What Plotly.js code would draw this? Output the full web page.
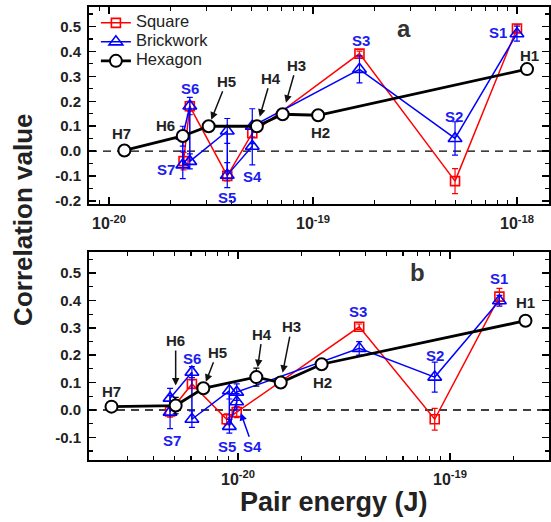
<!DOCTYPE html>
<html><head><meta charset="utf-8">
<script src="https://cdn.plot.ly/plotly-3.0.1.min.js"></script>
<style>body{margin:0;background:#fff}#plot{width:551px;height:522px}</style>
</head><body><div id="plot"></div>
<script>
// ---------- Panel a data ----------
const hexA_x = [1.19e-20, 2.30e-20, 3.08e-20, 5.31e-20, 7.1e-20, 1.06e-19, 1.12e-18];
const hexA_y = [0.003, 0.061, 0.100, 0.100, 0.148, 0.144, 0.329];
const sqA_x = [2.32e-20, 2.49e-20, 3.80e-20, 5.04e-20, 1.69e-19, 4.97e-19, 1.0e-18];
const sqA_y = [-0.040, 0.180, -0.099, 0.072, 0.391, -0.120, 0.492];
const sqA_err = [0.035, 0.020, 0.020, 0.015, 0.010, 0.050, 0.015];
const brA_x = [2.30e-20, 2.30e-20, 2.49e-20, 2.49e-20, 3.80e-20, 3.80e-20, 5.04e-20, 5.04e-20, 1.69e-19, 4.97e-19, 1.0e-18];
const brA_y = [-0.055, 0.060, 0.181, -0.041, 0.081, -0.096, 0.020, 0.100, 0.328, 0.051, 0.471];
const brA_err = [0.055, 0.040, 0.035, 0.030, 0.050, 0.050, 0.075, 0.070, 0.054, 0.067, 0.030];

// ---------- Panel b data ----------
const hexB_x = [2.53e-21, 5.08e-21, 6.86e-21, 1.22e-20, 1.59e-20, 2.48e-20, 2.27e-19];
const hexB_y = [0.012, 0.016, 0.079, 0.120, 0.100, 0.167, 0.326];
const hexB_err = [0, 0.030, 0, 0.033, 0, 0, 0];
const sqB_x = [4.78e-21, 6.06e-21, 8.84e-21, 9.86e-21, 3.73e-20, 8.47e-20, 1.71e-19];
const sqB_y = [-0.006, 0.095, -0.034, -0.008, 0.304, -0.034, 0.414];
const sqB_err = [0.020, 0.015, 0.020, 0.020, 0.010, 0.040, 0.030];
const brB_x = [4.78e-21, 4.78e-21, 6.06e-21, 6.06e-21, 9.1e-21, 9.1e-21, 9.86e-21, 9.86e-21, 3.73e-20, 8.47e-20, 1.71e-19];
const brB_y = [-0.008, 0.043, 0.138, -0.034, 0.070, -0.060, 0.030, 0.065, 0.225, 0.120, 0.399];
const brB_err = [0.060, 0.036, 0.020, 0.030, 0.030, 0.025, 0.030, 0.030, 0.025, 0.055, 0.020];

// ---------- tick labels ----------
const xTickValsA = [1e-20, 1e-19, 1e-18];
const xTickTextA = ['10<sup>-20</sup>', '10<sup>-19</sup>', '10<sup>-18</sup>'];
const xTickValsB = [1e-20, 1e-19];
const xTickTextB = ['10<sup>-20</sup>', '10<sup>-19</sup>'];
const yTickValsA = [-0.2, -0.1, 0.0, 0.1, 0.2, 0.3, 0.4, 0.5];
const yTickTextA = ['-0.2', '-0.1', '0.0', '0.1', '0.2', '0.3', '0.4', '0.5'];
const yTickValsB = [-0.1, 0.0, 0.1, 0.2, 0.3, 0.4, 0.5];
const yTickTextB = ['-0.1', '0.0', '0.1', '0.2', '0.3', '0.4', '0.5'];

const seriesNames = ['Square', 'Brickwork', 'Hexagon'];

// label definitions: [series, index, text, dx, dy, arrow, standoff]
const labelsA = [
  ['br', 10, 'S1', -19, -1], ['br', 9, 'S2', -1, -22], ['sq', 4, 'S3', 2, -13],
  ['br', 6, 'S4', 0, 30], ['br', 5, 'S5', 0, 22], ['sq', 1, 'S6', 0, -18], ['br', 0, 'S7', -17, 5],
  ['hex', 6, 'H1', 2, -14], ['hex', 5, 'H2', 2, 17], ['hex', 4, 'H3', 14, -49, true, 12],
  ['hex', 3, 'H4', 14, -48, true, 10], ['hex', 2, 'H5', 18, -45, true, 7],
  ['hex', 1, 'H6', -17, -10], ['hex', 0, 'H7', -3, -17]
];
const labelsB = [
  ['sq', 6, 'S1', 0, -18], ['br', 9, 'S2', 0, -22], ['sq', 4, 'S3', -1, -15],
  ['br', 6, 'S4', 16, 45, true, 12], ['br', 5, 'S5', -2, 20], ['br', 2, 'S6', 0, -14], ['br', 0, 'S7', 2, 28],
  ['hex', 6, 'H1', 0, -18], ['hex', 5, 'H2', 1, 18], ['hex', 4, 'H3', 11, -56, true, 10],
  ['hex', 3, 'H4', 6, -43, true, 10], ['hex', 2, 'H5', 14, -36, true, 7],
  ['hex', 1, 'H6', 0, -65, true, 20], ['hex', 0, 'H7', 0, -15]
];

const RED = '#ff0000', BLUE = '#0000ff', BLACK = '#000000';
const LBLUE = '#1c1cf0', DARK = '#222222';
const FONT = 'Liberation Sans, Arial, sans-serif';
const legName = n => '<span style="font-size:16.5px">' + n + '</span>';

function sqTrace(x, y, e, xa, ya, show) {
  return {x, y, xaxis: xa, yaxis: ya, name: legName(seriesNames[0]), showlegend: show, legendrank: 1,
    type: 'scatter', mode: 'lines+markers',
    line: {color: RED, width: 1.5},
    marker: {symbol: 'square-open', size: 9, color: RED, line: {width: 1.6, color: RED}},
    error_y: {type: 'data', array: e, visible: true, color: RED, thickness: 1.2, width: 3}};
}
function brTrace(x, y, e, xa, ya, show) {
  return {x, y, xaxis: xa, yaxis: ya, name: legName(seriesNames[1]), showlegend: show, legendrank: 2,
    type: 'scatter', mode: 'lines+markers',
    line: {color: BLUE, width: 1.5},
    marker: {symbol: 'triangle-up-open', size: 12, color: BLUE, line: {width: 1.6, color: BLUE}},
    error_y: {type: 'data', array: e, visible: true, color: BLUE, thickness: 1.2, width: 3}};
}
function hexTrace(x, y, e, xa, ya, show) {
  const t = {x, y, xaxis: xa, yaxis: ya, name: legName(seriesNames[2]), showlegend: show, legendrank: 3,
    type: 'scatter', mode: 'lines+markers',
    line: {color: BLACK, width: 2.8},
    marker: {symbol: 'circle', size: 12, color: '#ffffff', line: {width: 2, color: BLACK}}};
  if (e) t.error_y = {type: 'data', array: e, visible: true, color: BLACK, thickness: 1.2, width: 3};
  return t;
}

const data = [
  sqTrace(sqA_x, sqA_y, sqA_err, 'x', 'y', true),
  brTrace(brA_x, brA_y, brA_err, 'x', 'y', true),
  hexTrace(hexA_x, hexA_y, null, 'x', 'y', true),
  sqTrace(sqB_x, sqB_y, sqB_err, 'x2', 'y2', false),
  brTrace(brB_x, brB_y, brB_err, 'x2', 'y2', false),
  hexTrace(hexB_x, hexB_y, hexB_err, 'x2', 'y2', false)
];

function minorVals(d0, d1) {
  const v = [];
  for (let d = d0; d <= d1; d++) for (let m = 2; m <= 9; m++) v.push(m * Math.pow(10, d));
  return v;
}

function xAxis(range, tv, tt, anchor) {
  return {type: 'log', range, anchor, tickvals: tv, ticktext: tt,
    ticks: 'inside', ticklen: 7, tickwidth: 1.5, tickcolor: '#000',
    showline: true, linewidth: 2, linecolor: '#000', mirror: 'allticks',
    showgrid: false, zeroline: false, ticklabelstandoff: 4,
    tickfont: {family: FONT, size: 16, color: DARK, weight: 'bold'},
    minor: {tickvals: minorVals(-22, -18), ticks: 'inside', ticklen: 4, tickwidth: 1.2, tickcolor: '#000', showgrid: false}};
}
function yAxis(range, domain, tv, tt, anchor) {
  return {range, domain, anchor, tickvals: tv, ticktext: tt,
    ticks: 'inside', ticklen: 7, tickwidth: 1.5, tickcolor: '#000',
    showline: true, linewidth: 2, linecolor: '#000', mirror: 'allticks',
    showgrid: false, zeroline: false, ticklabelstandoff: 3,
    tickfont: {family: FONT, size: 15, color: DARK, weight: 'bold'},
    minor: {dtick: 0.05, ticks: 'inside', ticklen: 4, tickwidth: 1.2, tickcolor: '#000', showgrid: false}};
}

const src = {
  a: {sq: [sqA_x, sqA_y], br: [brA_x, brA_y], hex: [hexA_x, hexA_y]},
  b: {sq: [sqB_x, sqB_y], br: [brB_x, brB_y], hex: [hexB_x, hexB_y]}
};
const annotations = [];
function addLabels(list, panel, xr, yr) {
  list.forEach(l => {
    const [s, i, text, dx, dy, arrow, standoff] = l;
    const X = Math.log10(src[panel][s][0][i]);
    const Y = src[panel][s][1][i];
    const color = s === 'hex' ? DARK : LBLUE;
    const font = {family: FONT, size: 15, color, weight: 'bold'};
    if (arrow) {
      annotations.push({x: X, y: Y, xref: xr, yref: yr, text, font, showarrow: true,
        ax: dx, ay: dy, arrowhead: 2, arrowsize: 1, arrowwidth: 1.5,
        arrowcolor: s === 'hex' ? '#111' : BLUE, standoff: standoff || 0});
    } else {
      annotations.push({x: X, y: Y, xref: xr, yref: yr, text, font, showarrow: false,
        xanchor: 'center', yanchor: 'middle', xshift: dx, yshift: -dy});
    }
  });
}
addLabels(labelsA, 'a', 'x', 'y');
addLabels(labelsB, 'b', 'x2', 'y2');

annotations.push({xref: 'x domain', yref: 'y domain', x: 0.685, y: 0.893, text: 'a', showarrow: false,
  xanchor: 'center', yanchor: 'middle', font: {family: FONT, size: 24, color: '#333', weight: 'bold'}});
annotations.push({xref: 'x2 domain', yref: 'y2 domain', x: 0.715, y: 0.904, text: 'b', showarrow: false,
  xanchor: 'center', yanchor: 'middle', font: {family: FONT, size: 24, color: '#333', weight: 'bold'}});
annotations.push({xref: 'paper', yref: 'paper', x: 0.533, y: -0.093, text: 'Pair energy (J)', showarrow: false,
  xanchor: 'center', yanchor: 'middle', font: {family: FONT, size: 27, color: DARK, weight: 'bold'}});
annotations.push({xref: 'paper', yref: 'paper', x: -0.1435, y: 0.53, text: 'Correlation value', showarrow: false,
  xanchor: 'center', yanchor: 'middle', textangle: -90, font: {family: FONT, size: 26, color: DARK, weight: 'bold'}});

const layout = {
  width: 551, height: 522,
  margin: {l: 89, r: 2, t: 7, b: 62},
  paper_bgcolor: '#fff', plot_bgcolor: '#fff',
  font: {family: FONT},
  showlegend: true,
  legend: {x: 0.015, y: 0.997, xanchor: 'left', yanchor: 'top', bgcolor: 'rgba(0,0,0,0)',
    borderwidth: 0, font: {family: FONT, size: 11.5, color: DARK}, tracegroupgap: 0},
  xaxis: xAxis([-20.098, -17.843], xTickValsA, xTickTextA, 'y'),
  yaxis: yAxis([-0.212, 0.578], [0.565, 1], yTickValsA, yTickTextA, 'x'),
  xaxis2: xAxis([-20.703, -18.533], xTickValsB, xTickTextB, 'y2'),
  yaxis2: yAxis([-0.183, 0.577], [0, 0.459], yTickValsB, yTickTextB, 'x2'),
  shapes: [
    {type: 'line', xref: 'x domain', yref: 'y', x0: 0, x1: 1, y0: 0, y1: 0,
     line: {color: '#000', width: 1.4, dash: '8px,6px'}, layer: 'below'},
    {type: 'line', xref: 'x2 domain', yref: 'y2', x0: 0, x1: 1, y0: 0, y1: 0,
     line: {color: '#000', width: 1.4, dash: '8px,6px'}, layer: 'below'}
  ],
  annotations
};

Plotly.newPlot('plot', data, layout, {displayModeBar: false, staticPlot: true});
</script></body></html>
